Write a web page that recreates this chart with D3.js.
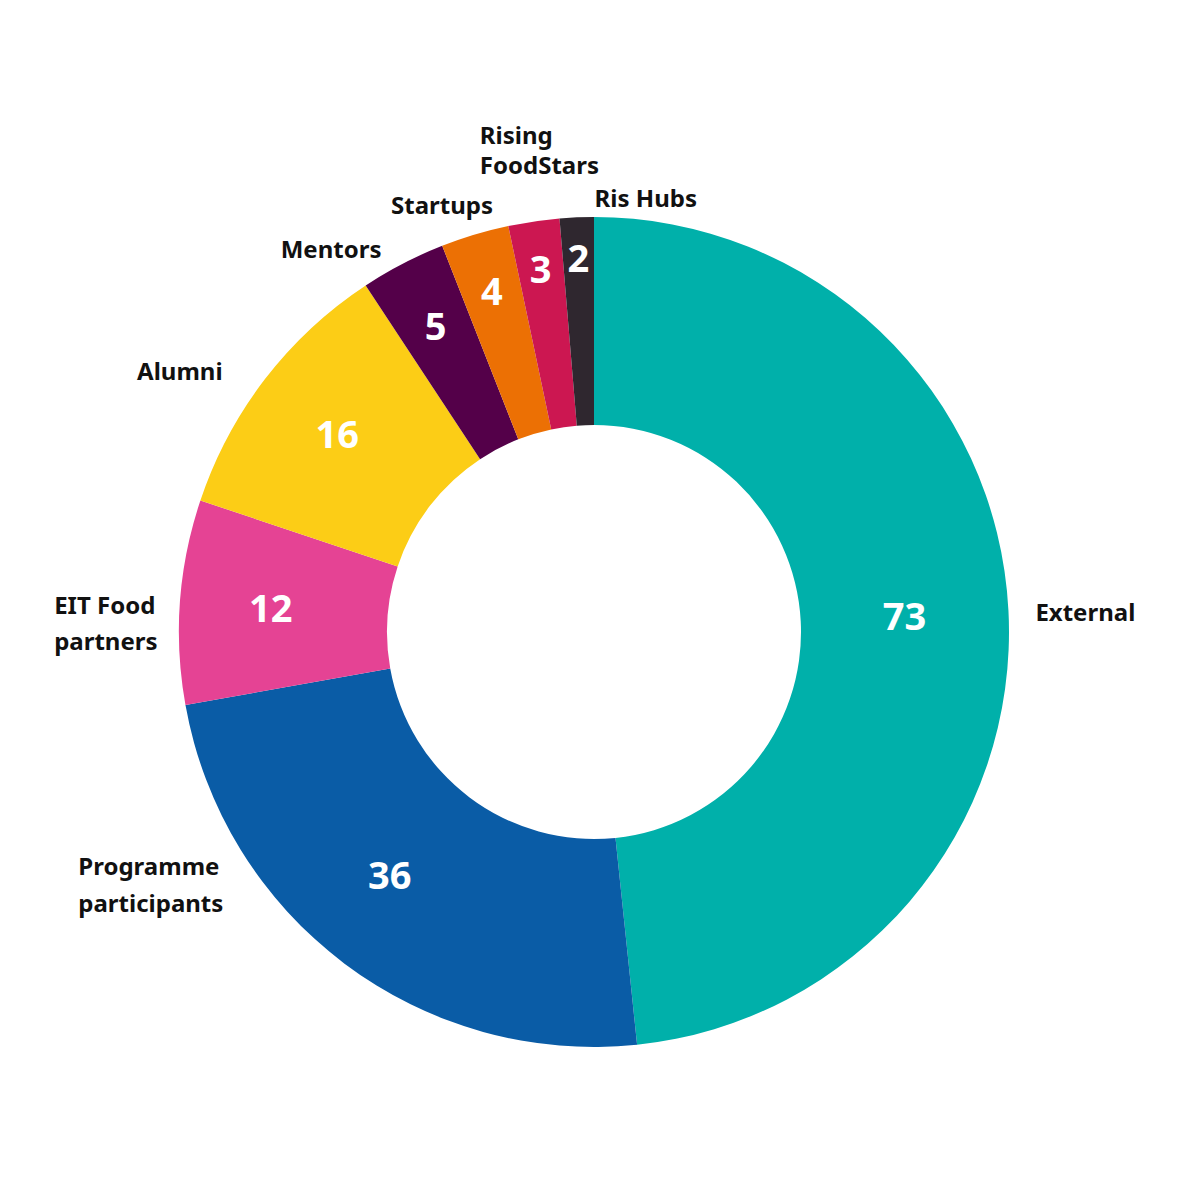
<!DOCTYPE html>
<html>
<head>
<meta charset="utf-8">
<script src="https://cdn.jsdelivr.net/npm/d3@7"></script>
<style>
  body { margin: 0; background: #fff; }
  svg text { font-family: "Noto Sans", "Open Sans", sans-serif; font-weight: 700; }
</style>
</head>
<body>
<svg id="chart"></svg>
<script>
// Data, clockwise from 12 o'clock
const categories = ["External", "Programme participants", "EIT Food partners", "Alumni",
  "Mentors", "Startups", "Rising FoodStars", "Ris Hubs"];
const values = [73, 36, 12, 16, 5, 4, 3, 2];
const labelLines = [["External"], ["Programme", "participants"], ["EIT Food", "partners"], ["Alumni"],
  ["Mentors"], ["Startups"], ["Rising", "FoodStars"], ["Ris Hubs"]];
const colors = ["#00b0aa", "#0a5ca6", "#e54394", "#fccd16", "#540049", "#ec7004", "#cc1751", "#2f272f"];

// label layout: nudges from the arc point at labelR
const labelNudge = [[0, 12, "start"], [-250, -110, "start"], [-99, 14, "start"], [-21, 17, "end"],
  [-9, 18, "end"], [26, 5, "end"], [-50, -51, "start"], [19, 17, "start"]];
const lineGap = [36, 37, 36, 36, 36, 36, 30, 36];
// value labels: radius and angle shift (deg)
const valueR = [311, 318, 324, 324, 344, 356, 367, 374];
const valueShift = [0, 3, 0, 0, 0, 0, 0, 0];

const width = 1188, height = 1188;
const cx = 594, cy = 632, outerR = 415, innerR = 207, labelR = 442;

const svg = d3.select("#chart").attr("width", width).attr("height", height);
const g = svg.append("g").attr("transform", `translate(${cx},${cy})`);

const data = categories.map((c, i) => ({ key: c, value: values[i], i }));
const pie = d3.pie().value(d => d.value).sort(null);
const arcs = pie(data);
const arc = d3.arc().innerRadius(innerR).outerRadius(outerR);

g.selectAll(".slice")
  .data(arcs)
  .enter()
  .append("path")
  .attr("class", "slice")
  .attr("d", arc)
  .attr("fill", d => colors[d.data.i]);

const mid = d => (d.startAngle + d.endAngle) / 2;
const polar = (a, r) => [r * Math.sin(a), -r * Math.cos(a)];

// values inside the ring
g.selectAll(".value")
  .data(arcs)
  .enter()
  .append("text")
  .attr("class", "value")
  .attr("transform", d => {
    const a = mid(d) + valueShift[d.data.i] * Math.PI / 180;
    const [x, y] = polar(a, valueR[d.data.i]);
    return `translate(${x},${y})`;
  })
  .attr("text-anchor", "middle")
  .attr("dy", "0.36em")
  .attr("fill", "#fff")
  .style("font-size", "38px")
  .text(d => d.data.value);

// category labels outside
const labels = g.selectAll(".label")
  .data(arcs)
  .enter()
  .append("text")
  .attr("class", "label")
  .attr("fill", "#111")
  .style("font-size", "24px")
  .attr("text-anchor", d => labelNudge[d.data.i][2])
  .each(function (d) {
    const [x, y] = polar(mid(d), labelR);
    const n = labelNudge[d.data.i];
    const t = d3.select(this);
    labelLines[d.data.i].forEach((line, k) => {
      t.append("tspan")
        .attr("x", x + n[0])
        .attr("y", y + n[1] + k * lineGap[d.data.i])
        .text(line);
    });
  });
</script>
</body>
</html>
